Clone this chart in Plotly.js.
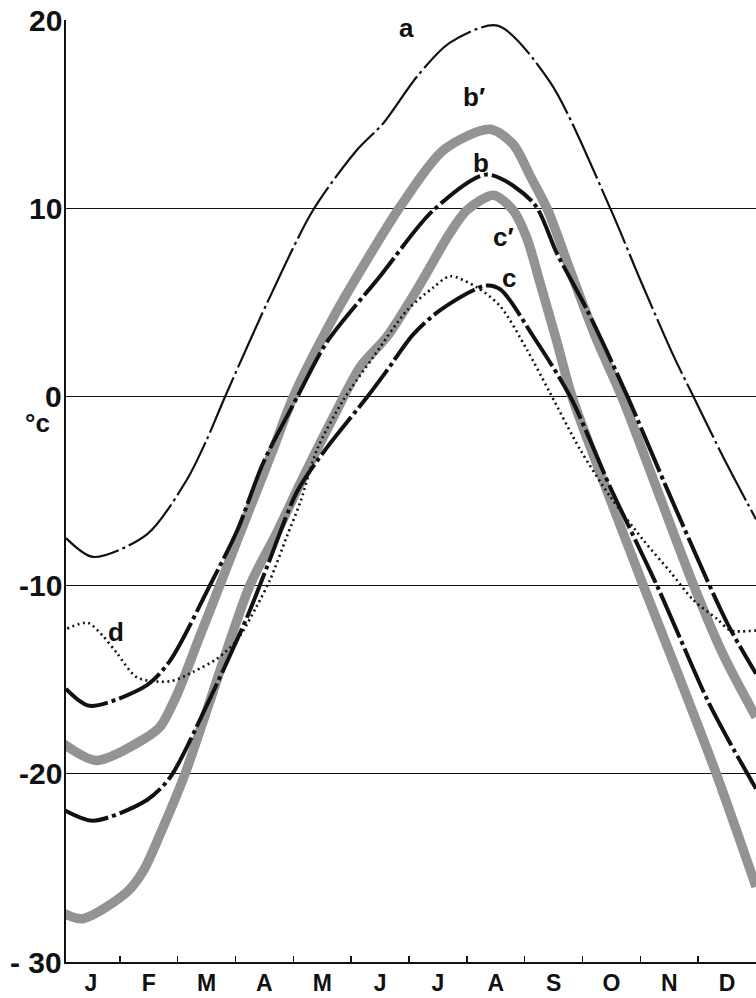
<!DOCTYPE html>
<html>
<head>
<meta charset="utf-8">
<script src="https://cdn.plot.ly/plotly-3.0.1.min.js"></script>
<style>html,body{margin:0;padding:0;background:#fff;}#chart{width:756px;height:998px;}</style>
</head>
<body>
<div id="chart"></div>
<script>
// x = months elapsed since 1 January (Jan centre = 0.5); y = temperature in °C
var monthLabels = ["J","F","M","A","M","J","J","A","S","O","N","D"];
var monthCentres = [0.5,1.5,2.5,3.5,4.5,5.5,6.5,7.5,8.5,9.5,10.5,11.5];
var monthBounds = [1,2,3,4,5,6,7,8,9,10,11];
var yTickVals = [-30,-20,-10,0,10,20];
var yTickText = ["- 30","-20","-10","0","10","20"];

var xA = [0.07,0.54,1.47,2.16,2.5,2.82,3.55,4.34,5.1,5.55,6.14,6.71,7.53,8.44,9.48,10.0,10.57,10.92,11.45,12.0];
var yA = [-7.5,-8.5,-7.3,-4.4,-2.3,0,5.0,9.9,13.1,14.5,17.0,18.8,19.7,16.7,10.0,6.2,2.2,0,-3.3,-6.5];

var xB = [0.07,0.48,1.47,1.87,2.56,3.03,3.48,4.07,4.58,5.5,6.42,7.35,8.15,8.56,9.08,9.78,10.52,11.5,12.0];
var yB = [-15.5,-16.4,-15.3,-14.0,-10.0,-7.1,-3.5,0,2.9,6.4,9.9,11.8,10.3,7.6,4.6,0,-5.3,-12.0,-14.7];

var xC = [0.02,0.54,1.47,1.87,2.5,3.2,3.55,4.07,4.58,5.28,5.62,6.07,6.54,7.32,7.58,8.15,8.79,9.48,10.3,11.16,11.52,12.0];
var yC = [-21.9,-22.5,-21.4,-20.2,-16.4,-11.7,-9.0,-5.0,-2.7,0,1.4,3.3,4.6,5.9,5.7,3.2,0,-4.8,-10.1,-16.1,-18.2,-20.8];

var xBp = [0.02,0.6,1.4,1.7,1.99,2.36,2.73,3.2,3.65,4.0,4.69,5.28,5.85,6.6,7.4,7.8,8.1,8.4,8.8,9.25,9.68,10.3,10.92,11.45,12.0];
var yBp = [-18.4,-19.3,-18.2,-17.5,-15.8,-12.9,-10.0,-6.3,-2.8,0,4.2,7.3,10.1,13.1,14.2,13.4,11.7,9.9,6.6,3.0,0,-5.0,-10.0,-13.8,-17.0];

var xCp = [0.02,0.36,1.12,1.4,1.7,2.13,2.51,3.25,3.7,4.12,4.69,5.16,5.62,6.14,6.71,7.0,7.46,7.8,8.04,8.27,8.55,8.82,9.4,10.05,10.65,11.3,12.0];
var yCp = [-27.4,-27.7,-26.3,-25.2,-23.2,-20.0,-16.6,-10.0,-7.3,-4.6,-1.1,1.6,3.2,5.7,8.7,9.9,10.7,9.9,8.4,6.0,3.0,0,-4.8,-10.0,-14.7,-19.9,-26.0];

var xD = [0.09,0.45,0.71,0.95,1.3,1.87,2.27,2.68,3.03,3.37,3.6,3.89,4.12,4.41,4.86,5.38,5.97,6.42,6.71,7.18,7.58,8.04,8.44,8.96,9.48,10.05,10.52,10.92,11.33,11.56,12.0];
var yD = [-12.3,-12.0,-12.7,-13.6,-14.9,-15.1,-14.6,-13.9,-12.9,-11.1,-9.7,-7.4,-5.6,-2.8,-0.2,2.1,4.6,5.8,6.4,5.8,4.8,2.5,0.2,-2.8,-5.3,-7.6,-9.3,-10.8,-11.8,-12.4,-12.4];

var curveLabels = ["a","b\u2032","b","c\u2032","c","d"];
var labelX = [5.95,7.13,7.25,7.63,7.73,0.93];
var labelY = [19.6,15.9,12.4,8.5,6.3,-12.5];

var grey = "#939393";
var ink = "#111111";
var fam = "Liberation Sans, Arial, sans-serif";
function tr(x,y,color,width,dash){
  return {x:x,y:y,type:"scatter",mode:"lines",hoverinfo:"skip",
    line:{color:color,width:width,dash:dash,shape:"spline",smoothing:0.8}};
}
var data = [
  tr(xBp,yBp,grey,9.5,"solid"),
  tr(xCp,yCp,grey,9.5,"solid"),
  tr(xD,yD,ink,2.6,"2px,3.5px"),
  tr(xA,yA,ink,2.2,"60px,4px,3px,4px"),
  tr(xB,yB,ink,4,"48px,4px,4px,4px"),
  tr(xC,yC,ink,4,"48px,4px,4px,4px")
];

var annotations = curveLabels.map(function(t,i){
  return {x:labelX[i],y:labelY[i],xref:"x",yref:"y",text:"<b>"+t+"</b>",showarrow:false,
    font:{family:fam,size:26,color:ink}};
});
// y-axis value labels, placed on the y scale just left of the axis
yTickVals.forEach(function(v,i){
  annotations.push({xref:"paper",yref:"y",x:0,y:v,xanchor:"right",yanchor:"middle",xshift:-2,
    text:"<b>"+yTickText[i]+"</b>",showarrow:false,font:{family:fam,size:30,color:ink}});
});
annotations.push({xref:"paper",yref:"y",x:0,y:-1.4,xanchor:"right",xshift:-14,text:"<b>\u00b0c</b>",showarrow:false,
  font:{family:fam,size:26,color:ink}});

var layout = {
  width:756,height:998,
  margin:{l:66,r:0,t:20,b:36},
  paper_bgcolor:"#fff",plot_bgcolor:"#fff",
  showlegend:false,
  xaxis:{range:[0.07,12.0],showgrid:false,zeroline:false,showline:true,linecolor:ink,linewidth:1.5,
    tickmode:"array",tickvals:monthCentres,ticktext:monthLabels.map(function(s){return "<b>"+s+"</b>";}),ticks:"",ticklabelstandoff:0,
    tickfont:{family:fam,size:23,color:ink},
    minor:{tickmode:"array",tickvals:monthBounds,ticks:"inside",ticklen:6,tickwidth:1.5,tickcolor:ink,showgrid:false}},
  yaxis:{range:[-30,20],showgrid:true,gridcolor:ink,gridwidth:1.2,zeroline:false,showline:true,linecolor:ink,linewidth:1.8,
    tickmode:"array",tickvals:yTickVals,showticklabels:false,ticks:""},
  annotations:annotations
};
Plotly.newPlot("chart",data,layout,{displayModeBar:false,staticPlot:true});
</script>
</body>
</html>
